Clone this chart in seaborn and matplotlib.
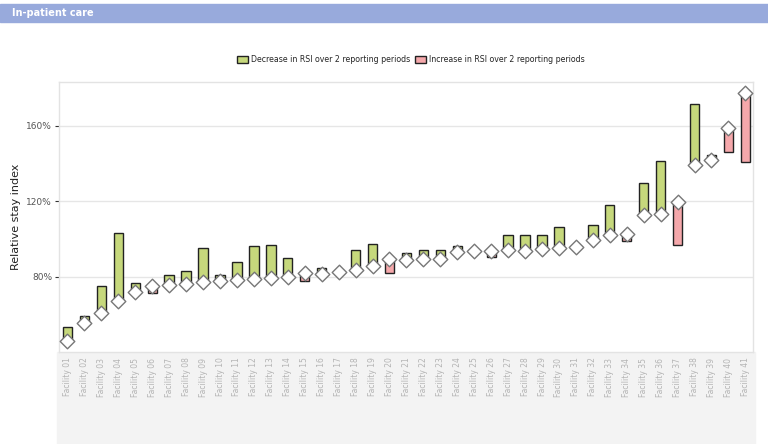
import matplotlib
matplotlib.use("Agg")
import numpy as np
import seaborn as sns
from matplotlib import pyplot as plt
from matplotlib.patches import Patch, Rectangle

# facility names are blurred in the reference, so placeholders are used
facilities = [f"Facility {i:02d}" for i in range(1, 42)]

# relative stay index, current reporting period (diamonds)
current_rsi = [46.1, 55.5, 60.8, 67.5, 72.1, 75.2, 75.8, 76.3, 77.5, 77.9,
               78.4, 78.8, 79.3, 80.2, 82.0, 81.6, 82.8, 83.7, 85.8, 89.5,
               89.0, 89.5, 89.5, 93.4, 93.9, 93.9, 94.3, 93.9, 94.8, 95.2,
               96.0, 99.6, 102.2, 102.8, 112.8, 113.3, 119.8, 139.3, 141.9, 158.7,
               177.2]
# relative stay index, two reporting periods earlier
previous_rsi = [53.4, 59.4, 75.4, 103.1, 77.0, 71.5, 81.0, 83.2, 95.5, 81.0,
                88.1, 96.6, 96.9, 89.9, 78.0, 84.6, 82.8, 94.3, 97.3, 82.3,
                92.9, 94.3, 94.3, 96.6, 93.9, 90.7, 102.2, 102.2, 102.2, 106.6,
                96.0, 107.5, 118.1, 99.2, 129.9, 141.4, 96.9, 171.5, 144.6, 146.3,
                141.0]

GREEN = "#c6d87c"
PINK = "#f5a8ab"

sns.set_theme(style="white")
plt.rcParams["font.family"] = ["DejaVu Sans"]

fig = plt.figure(figsize=(7.68, 4.44), dpi=100)
ax = fig.add_axes([59 / 768, 92 / 444, 694 / 768, 270 / 444])
ax.set_zorder(2)

cur = np.array(current_rsi)
prev = np.array(previous_rsi)
x = np.arange(len(facilities))
colors = [GREEN if p >= c else PINK for p, c in zip(prev, cur)]
ax.bar(x, np.abs(prev - cur), bottom=np.minimum(prev, cur), width=0.55,
       color=colors, edgecolor="#222222", linewidth=1.0, zorder=2)
sns.scatterplot(x=x, y=cur, marker="D", s=55, color="white",
                edgecolor="#777777", linewidth=1.0, ax=ax, zorder=3)

ax.set_xlim(-0.5, 40.45)
ax.set_ylim(40.3, 183.2)
ax.set_yticks([80, 120, 160])
ax.set_yticklabels(["80%", "120%", "160%"], fontsize=6.5, color="#555555")
ax.tick_params(axis="y", length=3, width=0.8, color="#333333", pad=2, left=True)
ax.yaxis.grid(True, color="#e6e6e6", linewidth=1.0, zorder=0)
ax.set_axisbelow(True)
ax.set_ylabel("Relative stay index", fontsize=8, color="#222222")
ax.yaxis.set_label_coords(-38 / 694, 0.5)
for s in ax.spines.values():
    s.set_color("#e3e3e3")
    s.set_linewidth(1.0)

ax.set_xticks(x)
ax.set_xticklabels(facilities, rotation=90, fontsize=5.5, color="#b4b4b4")
ax.tick_params(axis="x", length=0, pad=4)

# grey band behind the facility names
fig.patches.append(Rectangle((57 / 768, 0), 698 / 768, 92 / 444,
                             transform=fig.transFigure, color="#f3f3f3", zorder=0))

# header strip
fig.patches.append(Rectangle((0, 422 / 444), 1, 18 / 444,
                             transform=fig.transFigure, color="#98aadc", zorder=0))
fig.text(12 / 768, 431 / 444, "In-patient care", color="white",
         fontsize=7, fontweight="bold", va="center", ha="left")

handles = [Patch(facecolor=GREEN, edgecolor="#222222", linewidth=1.0,
                 label="Decrease in RSI over 2 reporting periods"),
           Patch(facecolor=PINK, edgecolor="#222222", linewidth=1.0,
                 label="Increase in RSI over 2 reporting periods")]
fig.legend(handles=handles, loc="center", bbox_to_anchor=(411 / 768, 384 / 444),
           ncol=2, frameon=False, fontsize=5.7, handlelength=1.4, handleheight=0.9,
           columnspacing=0.6, handletextpad=0.4)

fig.savefig("out.png", dpi=100)
